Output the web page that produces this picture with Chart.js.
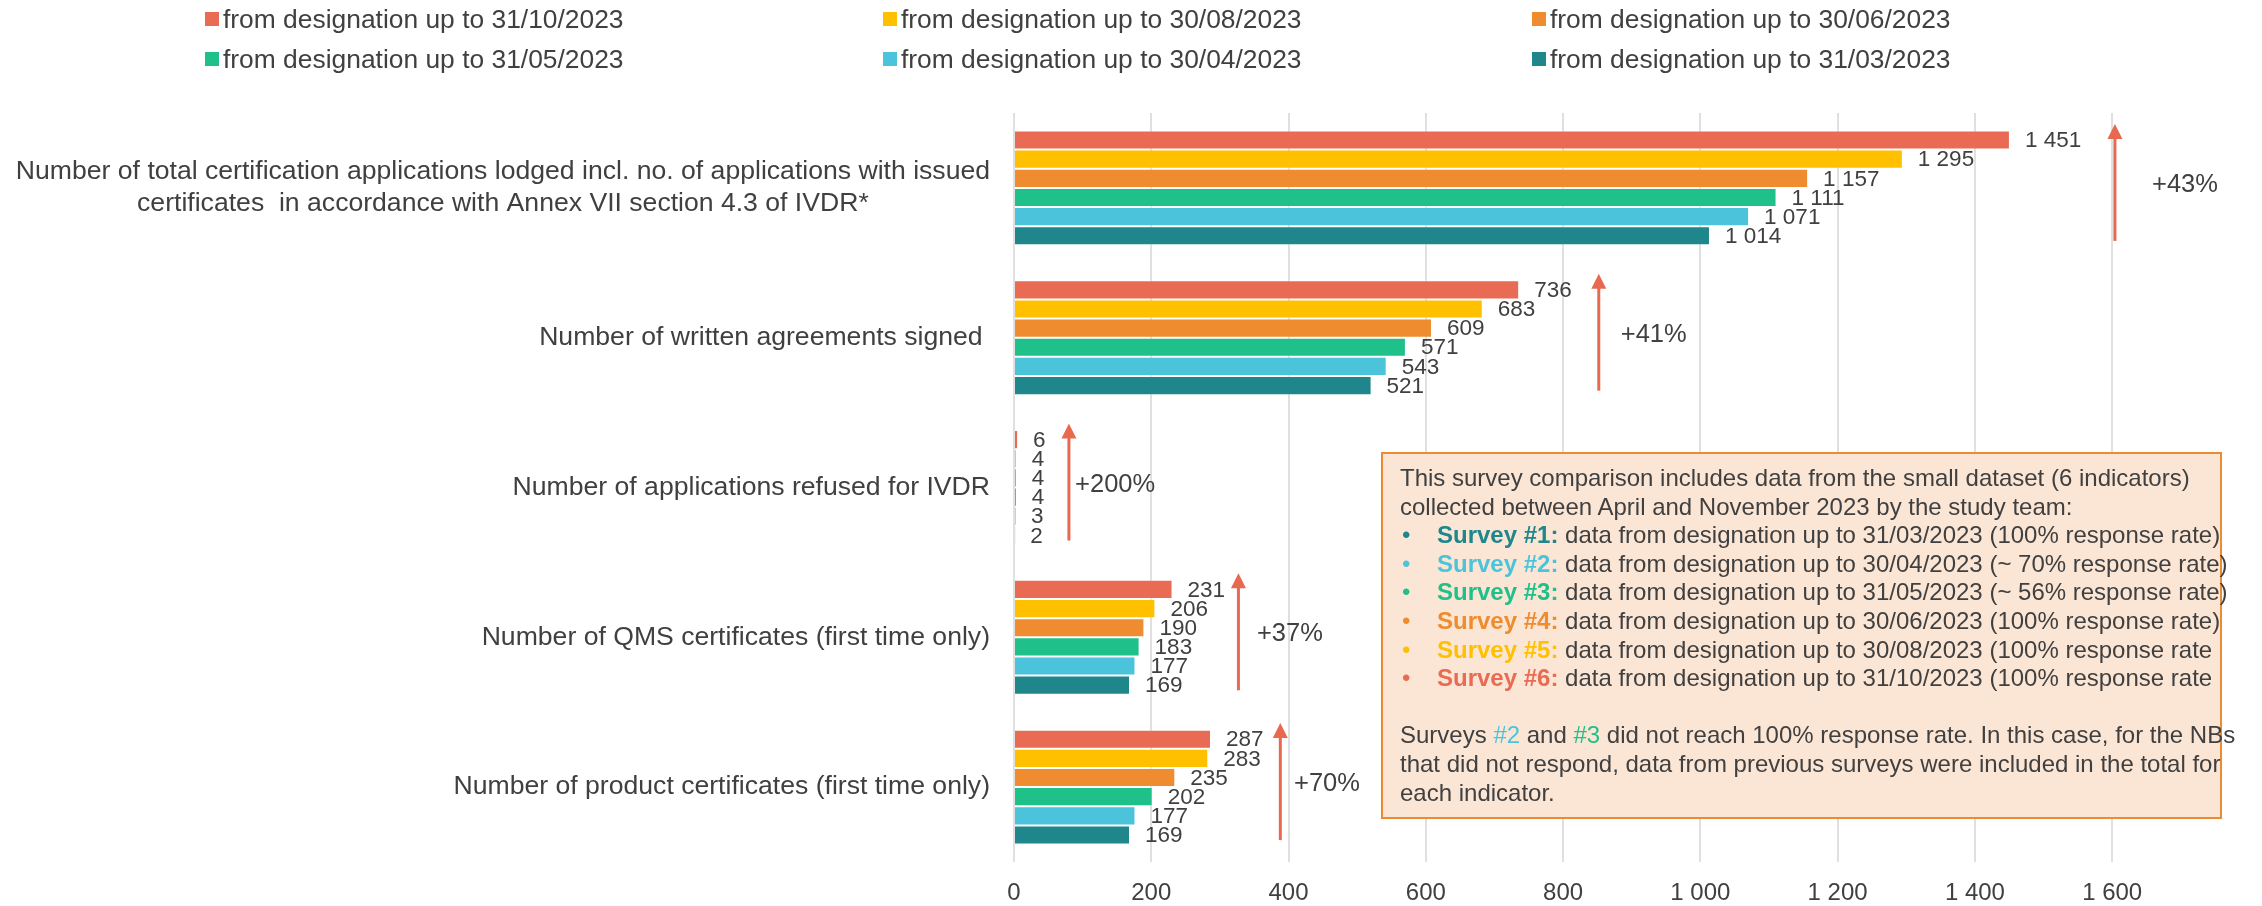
<!DOCTYPE html>
<html>
<head>
<meta charset="utf-8">
<script src="https://cdn.jsdelivr.net/npm/chart.js@4.4.0/dist/chart.umd.min.js"></script>
<style>
  html, body { margin: 0; padding: 0; background: #fff; }
  #wrap { position: relative; width: 2262px; height: 906px; font-family: Arial, "Liberation Sans", sans-serif; color: #404040; }
  #chart { position: absolute; left: 0; top: 0; }
  .leg { position: absolute; height: 30px; display: flex; align-items: center; font-size: 26.4px; white-space: nowrap; }
  .leg i { display: inline-block; width: 14px; height: 14px; margin-right: 4px; }
  #note { position: absolute; left: 1381px; top: 452px; width: 837px; height: 363px; box-sizing: content-box;
          border: 2px solid #ED8B33; background: #FBE6D6; font-size: 24px; line-height: 28.6px;
          padding: 0; white-space: nowrap; }
  #note .in { position: absolute; left: 17px; top: 10px; }
  #note .row { position: relative; padding-left: 37px; }
  #note .row span { position: absolute; left: 2px; top: 0; }
</style>
</head>
<body>
<div id="wrap">
  <canvas id="chart" width="2262" height="906"></canvas>
  <div id="legend"></div>
  <div id="note"><div class="in">
    This survey comparison includes data from the small dataset (6 indicators)<br>
    collected between April and November 2023 by the study team:
    <div class="row"><span style="color:#1F868B">•</span><b style="color:#1F868B">Survey #1:</b> data from designation up to 31/03/2023 (100% response rate)</div>
    <div class="row"><span style="color:#4BC4DB">•</span><b style="color:#4BC4DB">Survey #2:</b> data from designation up to 30/04/2023 (~ 70% response rate)</div>
    <div class="row"><span style="color:#1FC089">•</span><b style="color:#1FC089">Survey #3:</b> data from designation up to 31/05/2023 (~ 56% response rate)</div>
    <div class="row"><span style="color:#EE8C2F">•</span><b style="color:#EE8C2F">Survey #4:</b> data from designation up to 30/06/2023 (100% response rate)</div>
    <div class="row"><span style="color:#FFC000">•</span><b style="color:#FFC000">Survey #5:</b> data from designation up to 30/08/2023 (100% response rate</div>
    <div class="row"><span style="color:#E96B53">•</span><b style="color:#E96B53">Survey #6:</b> data from designation up to 31/10/2023 (100% response rate</div>
    <br>
    Surveys <span style="color:#4BC4DB">#2</span> and <span style="color:#1FC089">#3</span> did not reach 100% response rate. In this case, for the NBs<br>
    that did not respond, data from previous surveys were included in the total for<br>
    each indicator.
  </div></div>
</div>
<script>
// categories (y axis)
const categories = [
  ['Number of total certification applications lodged incl. no. of applications with issued',
   'certificates  in accordance with Annex VII section 4.3 of IVDR*'],
  'Number of written agreements signed ',
  'Number of applications refused for IVDR',
  'Number of QMS certificates (first time only)',
  'Number of product certificates (first time only)'
];

// one array per survey
const upTo31Oct = [1451, 736, 6, 231, 287];
const upTo30Aug = [1295, 683, 4, 206, 283];
const upTo30Jun = [1157, 609, 4, 190, 235];
const upTo31May = [1111, 571, 4, 183, 202];
const upTo30Apr = [1071, 543, 3, 177, 177];
const upTo31Mar = [1014, 521, 2, 169, 169];

const seriesLabels = [
  'from designation up to 31/10/2023',
  'from designation up to 30/08/2023',
  'from designation up to 30/06/2023',
  'from designation up to 31/05/2023',
  'from designation up to 30/04/2023',
  'from designation up to 31/03/2023'
];
const seriesColors = ['#E96B53', '#FFC000', '#EE8C2F', '#1FC089', '#4BC4DB', '#1F868B'];

// growth arrows: label, where the arrow stands and where its label starts (value units)
const growthLabels = ['+43%', '+41%', '+200%', '+37%', '+70%'];
const arrowAt = [1604, 852, 80, 327, 388];
const growthLabelAt = [1658, 884, 89, 354, 408];

const xTicks = [0, 200, 400, 600, 800, 1000, 1200, 1400, 1600];

const FONT = 'Arial, "Liberation Sans", sans-serif';
const fmt = v => String(v).replace(/\B(?=(\d{3})+(?!\d))/g, ' ');

// legend, two rows of three
const legendCols = [205, 883, 1532];
const legendRows = [4, 44];
const legendEl = document.getElementById('legend');
seriesLabels.forEach((lab, i) => {
  const d = document.createElement('div');
  d.className = 'leg';
  d.style.left = legendCols[i % 3] + 'px';
  d.style.top = legendRows[Math.floor(i / 3)] + 'px';
  d.innerHTML = '<i style="background:' + seriesColors[i] + '"></i>' + lab;
  legendEl.appendChild(d);
});

const allSeries = [upTo31Oct, upTo30Aug, upTo30Jun, upTo31May, upTo30Apr, upTo31Mar];

// value labels, growth arrows and category labels
const overlay = {
  id: 'overlay',
  afterDatasetsDraw(chart) {
    const ctx = chart.ctx;
    const xs = chart.scales.x, ys = chart.scales.y;
    const area = chart.chartArea;
    ctx.save();

    ctx.font = '22.5px ' + FONT;
    ctx.fillStyle = '#404040';
    ctx.textAlign = 'left';
    ctx.textBaseline = 'middle';
    chart.data.datasets.forEach((ds, i) => {
      chart.getDatasetMeta(i).data.forEach((bar, j) => {
        ctx.fillText(fmt(ds.data[j]), bar.x + 15, bar.y + 1);
      });
    });

    const red = '#E8694F';
    categories.forEach((c, j) => {
      const cy = ys.getPixelForValue(j);
      const x = xs.getPixelForValue(arrowAt[j]);
      const tip = cy - 64, bottom = cy + 53;
      ctx.strokeStyle = red;
      ctx.fillStyle = red;
      ctx.lineWidth = 3;
      ctx.beginPath();
      ctx.moveTo(x, bottom);
      ctx.lineTo(x, tip + 12);
      ctx.stroke();
      ctx.beginPath();
      ctx.moveTo(x, tip);
      ctx.lineTo(x - 7.5, tip + 15);
      ctx.lineTo(x + 7.5, tip + 15);
      ctx.closePath();
      ctx.fill();
      ctx.fillStyle = '#404040';
      ctx.font = '25.5px ' + FONT;
      ctx.textAlign = 'left';
      ctx.fillText(growthLabels[j], xs.getPixelForValue(growthLabelAt[j]), cy - 3);
    });

    // category labels: right aligned, lines of a label centred on each other
    ctx.font = '26.6px ' + FONT;
    ctx.fillStyle = '#404040';
    const right = area.left - 24;
    categories.forEach((c, j) => {
      const lines = Array.isArray(c) ? c : [c];
      const w = Math.max(...lines.map(l => ctx.measureText(l).width));
      const cy = ys.getPixelForValue(j);
      const lh = 31.5;
      lines.forEach((l, k) => {
        const y = cy + (k - (lines.length - 1) / 2) * lh;
        if (lines.length > 1) {
          ctx.textAlign = 'center';
          ctx.fillText(l, right - w / 2, y);
        } else {
          ctx.textAlign = 'right';
          ctx.fillText(l, right, y);
        }
      });
    });
    ctx.restore();
  }
};

new Chart(document.getElementById('chart').getContext('2d'), {
  type: 'bar',
  data: {
    labels: categories,
    datasets: allSeries.map((d, i) => ({
      label: seriesLabels[i],
      data: d,
      backgroundColor: seriesColors[i],
      borderColor: 'rgba(255,255,255,0.35)',
      borderWidth: 1,
      categoryPercentage: 0.767,
      barPercentage: 1.0
    }))
  },
  options: {
    indexAxis: 'y',
    responsive: false,
    animation: false,
    layout: { padding: { left: 1014, right: 40, top: 113, bottom: -18 } },
    plugins: {
      legend: { display: false },
      tooltip: { enabled: false }
    },
    scales: {
      x: {
        min: 0,
        max: 1760,
        afterBuildTicks: s => { s.ticks = xTicks.map(v => ({ value: v })); },
        grid: { color: '#E0E0E0', lineWidth: 2, drawTicks: false },
        border: { display: false },
        ticks: {
          autoSkip: false,
          maxRotation: 0,
          padding: 16.6,
          color: '#404040',
          font: { size: 24, family: FONT },
          callback: v => fmt(v)
        }
      },
      y: {
        display: false
      }
    }
  },
  plugins: [overlay]
});
</script>
</body>
</html>
